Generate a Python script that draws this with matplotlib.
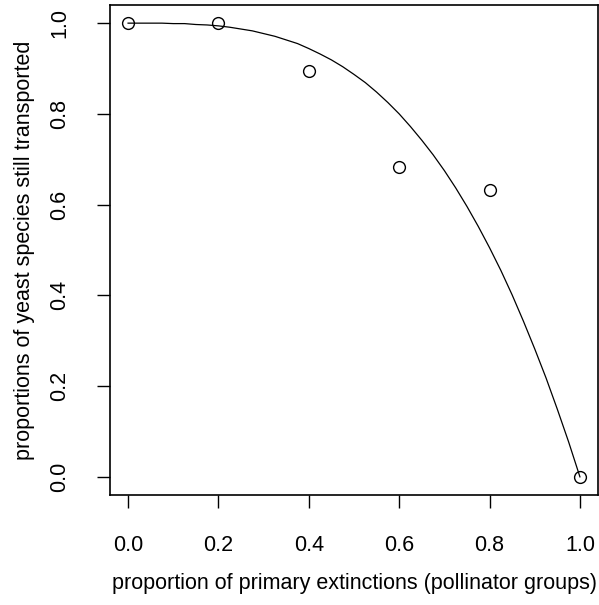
import matplotlib
matplotlib.use("Agg")
import matplotlib.pyplot as plt

# observed proportions of yeast species still transported
prop_extinct = [0.0, 0.2, 0.4, 0.6, 0.8, 1.0]
prop_yeast = [1.0, 1.0, 0.895, 0.684, 0.632, 0.0]

# fitted curve
curve_x = [0.0, 0.025, 0.05, 0.075, 0.10, 0.125, 0.15, 0.175, 0.20, 0.225,
           0.25, 0.275, 0.30, 0.325, 0.35, 0.375, 0.40, 0.425, 0.45, 0.475,
           0.50, 0.525, 0.55, 0.575, 0.60, 0.625, 0.65, 0.675, 0.70, 0.725,
           0.75, 0.775, 0.80, 0.825, 0.85, 0.875, 0.90, 0.925, 0.95, 0.975, 1.0]
curve_y = [1.0, 1.0, 1.0, 1.0, 0.999, 0.999, 0.997, 0.996, 0.994, 0.991,
           0.987, 0.983, 0.977, 0.971, 0.963, 0.955, 0.944, 0.932, 0.919, 0.904,
           0.887, 0.869, 0.848, 0.825, 0.800, 0.772, 0.742, 0.710, 0.675, 0.637,
           0.596, 0.552, 0.505, 0.455, 0.401, 0.343, 0.282, 0.218, 0.149, 0.077, 0.0]

ticks = [0.0, 0.2, 0.4, 0.6, 0.8, 1.0]
tick_labels = ["0.0", "0.2", "0.4", "0.6", "0.8", "1.0"]

plt.rcParams['font.family'] = ['Liberation Sans', 'DejaVu Sans']

fig = plt.figure(figsize=(5.99, 6.05), dpi=100)
ax = fig.add_axes([110 / 599, 1 - 495 / 605, 488 / 599, 490 / 605])

ax.plot(curve_x, curve_y, color='black', lw=0.9)
ax.plot(prop_extinct, prop_yeast, 'o', mfc='none', mec='black', ms=8.5, mew=1.0)

ax.set_xlim(-0.04, 1.04)
ax.set_ylim(-0.04, 1.04)
ax.set_xticks(ticks)
ax.set_xticklabels(tick_labels)
ax.set_yticks(ticks)
ax.set_yticklabels(tick_labels, rotation=90, va='center')
ax.tick_params(direction='out', length=9.5, width=1.0, pad=19, labelsize=15.5)

for s in ax.spines.values():
    s.set_linewidth(1.2)

ax.set_xlabel("proportion of primary extinctions (pollinator groups)", fontsize=15.5)
ax.set_ylabel("proportions of yeast species still transported", fontsize=15.5)
ax.xaxis.set_label_coords(0.5, -0.18)
ax.yaxis.set_label_coords(-0.176, 0.5)
ax.xaxis.label.set_va('center')
ax.yaxis.label.set_va('center')

fig.savefig("out.png", dpi=100)
